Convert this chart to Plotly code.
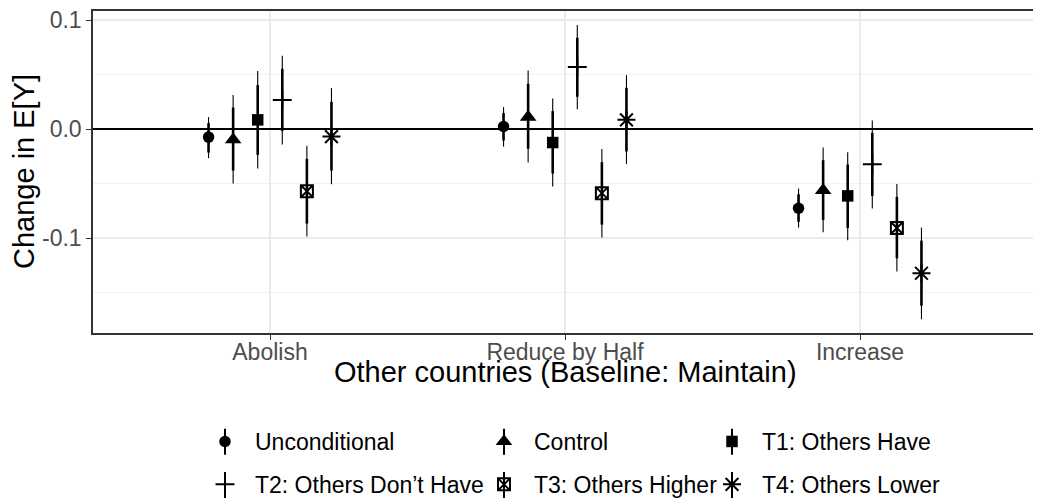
import plotly.graph_objects as go

# ---------------- data ----------------
categories = ["Abolish", "Reduce by Half", "Increase"]
groups = ["Unconditional", "Control", "T1: Others Have",
          "T2: Others Don\u2019t Have", "T3: Others Higher", "T4: Others Lower"]

estimate = [
    [-0.0073, 0.0024, -0.0725],
    [-0.0097, 0.0111, -0.0561],
    [0.0085, -0.0123, -0.0612],
    [0.0268, 0.0569, -0.0321],
    [-0.0569, -0.0587, -0.0906],
    [-0.0068, 0.0085, -0.1321],
]
lo95 = [
    [-0.0266, -0.0160, -0.0903],
    [-0.0499, -0.0306, -0.0945],
    [-0.0361, -0.0527, -0.1018],
    [-0.0141, 0.0183, -0.0728],
    [-0.0985, -0.0994, -0.1306],
    [-0.0505, -0.0321, -0.1743],
]
hi95 = [
    [0.0110, 0.0202, -0.0545],
    [0.0312, 0.0538, -0.0169],
    [0.0532, 0.0281, -0.0211],
    [0.0672, 0.0954, 0.0079],
    [-0.0153, -0.0183, -0.0502],
    [0.0376, 0.0495, -0.0903],
]
lo90 = [
    [-0.0215, -0.0104, -0.0850],
    [-0.0380, -0.0180, -0.0832],
    [-0.0236, -0.0407, -0.0906],
    [-0.0016, 0.0296, -0.0612],
    [-0.0866, -0.0875, -0.1184],
    [-0.0380, -0.0205, -0.1618],
]
hi90 = [
    [0.0055, 0.0147, -0.0597],
    [0.0198, 0.0416, -0.0285],
    [0.0404, 0.0165, -0.0325],
    [0.0553, 0.0838, -0.0034],
    [-0.0272, -0.0303, -0.0621],
    [0.0250, 0.0379, -0.1022],
]
y_ticks = [-0.1, 0.0, 0.1]
y_tick_labels = ["-0.1", "0.0", "0.1"]
y_minor = [-0.15, -0.05, 0.05]
x_title = "Other countries (Baseline: Maintain)"
y_title = "Change in E[Y]"

# ---------------- style ----------------
symbols = ["circle", "triangle-up", "square", "cross-thin", "square-x-open", "asterisk-open"]
sizes = [11.5, 14.5, 11.5, 13.5, 12, 15]
line_w = [0, 0, 0, 2, 2, 2]
legend_ids = ["legend", "legend2", "legend3", "legend", "legend2", "legend3"]

FONT = "Liberation Sans, Arial, sans-serif"
TICK_SIZE = 23
TITLE_SIZE = 29
LEG_SIZE = 23
OFF = 8  # default page body margin in the browser
W, H = 1041, 502
# wanted panel position on the page (pixels)
P_LEFT, P_RIGHT, P_TOP, P_BOTTOM = 93, 1037, 11, 333
ML = P_LEFT - OFF
MR = W - (P_RIGHT - OFF)
MT = P_TOP - OFF
MB = H - (P_BOTTOM - OFF)
PW, PH = P_RIGHT - P_LEFT, P_BOTTOM - P_TOP


def px2x(p):  # page pixel -> paper x
    return (p - P_LEFT) / PW


def px2y(p):  # page pixel -> paper y
    return (P_BOTTOM - p) / PH


dodge = 0.5
n = len(groups)

fig = go.Figure()
for g in range(n):
    off = (g - (n - 1) / 2) * dodge / n
    xs = [i + off for i in range(len(categories))]
    # thick (inner) interval
    fig.add_trace(go.Scatter(
        x=xs, y=estimate[g], mode="markers",
        marker=dict(size=1, opacity=0),
        error_y=dict(type="data", symmetric=False,
                     array=[h - e for h, e in zip(hi90[g], estimate[g])],
                     arrayminus=[e - l for l, e in zip(lo90[g], estimate[g])],
                     width=0, thickness=2.6, color="black"),
        showlegend=False, legendgroup=groups[g], legend=legend_ids[g],
        hoverinfo="skip"))
    # thin (outer) interval + point
    mk = dict(symbol=symbols[g], size=sizes[g], color="black")
    if line_w[g]:
        mk["line"] = dict(width=line_w[g], color="black")
    fig.add_trace(go.Scatter(
        x=xs, y=estimate[g], mode="markers", name=groups[g],
        marker=mk,
        error_y=dict(type="data", symmetric=False,
                     array=[h - e for h, e in zip(hi95[g], estimate[g])],
                     arrayminus=[e - l for l, e in zip(lo95[g], estimate[g])],
                     width=0, thickness=1.1, color="black"),
        legendgroup=groups[g], legend=legend_ids[g]))

# legend placement (page pixels)
col_sym_px = [225, 504, 732]
row_px = [441.7, 485]
item_w = 50
sym_off = (item_w + 10) / 2
leg_top_px = 420

leg_common = dict(orientation="v", xanchor="left", yanchor="top",
                  font=dict(family=FONT, size=LEG_SIZE, color="black"),
                  bgcolor="rgba(0,0,0,0)", borderwidth=0,
                  itemwidth=item_w, tracegroupgap=10, traceorder="grouped",
                  itemclick=False, itemdoubleclick=False)

layout_legends = {}
for k, lid in enumerate(["legend", "legend2", "legend3"]):
    layout_legends[lid] = dict(leg_common, x=px2x(col_sym_px[k] - sym_off), y=px2y(leg_top_px))

# vertical key lines through legend symbols (pointrange key)
shapes = []
for c in col_sym_px:
    for r in row_px:
        shapes.append(dict(type="line", xref="paper", yref="paper",
                           x0=px2x(c), x1=px2x(c), y0=px2y(r - 13), y1=px2y(r + 13),
                           line=dict(color="black", width=2), layer="above"))

annotations = [
    dict(text=x_title, xref="paper", yref="paper", x=0.5, y=px2y(372),
         xanchor="center", yanchor="middle", showarrow=False,
         font=dict(family=FONT, size=TITLE_SIZE, color="black")),
    dict(text=y_title, xref="paper", yref="paper", x=px2x(24), y=0.5,
         xanchor="center", yanchor="middle", showarrow=False, textangle=-90,
         font=dict(family=FONT, size=TITLE_SIZE, color="black")),
]

fig.update_layout(
    width=W, height=H,
    margin=dict(l=ML, r=MR, t=MT, b=MB, autoexpand=False),
    paper_bgcolor="white", plot_bgcolor="white",
    font=dict(family=FONT, color="black"),
    shapes=shapes, annotations=annotations,
    **layout_legends,
)

fig.update_xaxes(
    range=[-0.6, len(categories) - 0.4],
    tickvals=list(range(len(categories))), ticktext=categories,
    tickfont=dict(family=FONT, size=TICK_SIZE, color="#4D4D4D"),
    ticks="outside", ticklen=5, tickwidth=1.4, tickcolor="#333333",
    ticklabelstandoff=-7, ticklabeloverflow="allow",
    showgrid=True, gridcolor="#EBEBEB", gridwidth=1.5,
    showline=True, mirror=True, linecolor="#333333", linewidth=1.5,
    zeroline=False,
)
fig.update_yaxes(
    range=[-0.1869, 0.1083],
    tickvals=y_ticks, ticktext=y_tick_labels,
    tickfont=dict(family=FONT, size=TICK_SIZE, color="#4D4D4D"),
    ticks="outside", ticklen=5, tickwidth=1.4, tickcolor="#333333",
    ticklabeloverflow="allow",
    showgrid=True, gridcolor="#EBEBEB", gridwidth=1.5,
    minor=dict(tickvals=y_minor, showgrid=True, gridcolor="#F2F2F2", gridwidth=0.9, ticks=""),
    showline=True, mirror=True, linecolor="#333333", linewidth=1.5,
    zeroline=True, zerolinecolor="black", zerolinewidth=1.7,
)

fig.write_html("out.html")
